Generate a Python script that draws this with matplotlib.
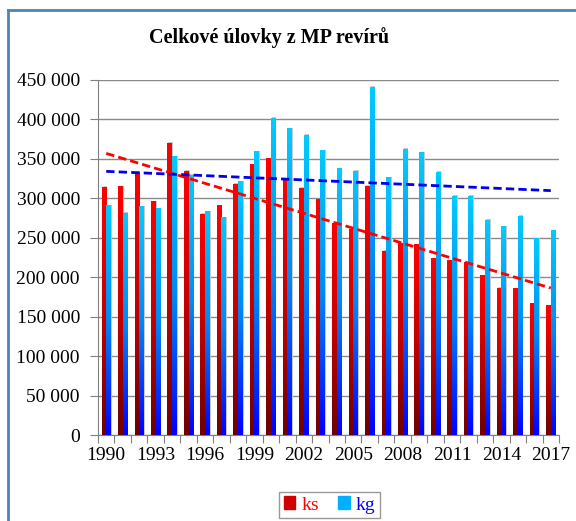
import numpy as np
import matplotlib
matplotlib.use("Agg")
import matplotlib.pyplot as plt
from matplotlib.colors import LinearSegmentedColormap
from matplotlib.patches import Patch

# data
years = list(range(1990, 2018))
ks = [314000, 314800, 333000, 295400, 369800, 334600, 279700, 290300, 317800, 342300,
      350300, 322400, 312700, 297900, 267900, 260200, 315600, 233200, 242500, 241700,
      224000, 220600, 218400, 202000, 186300, 185900, 166900, 164400]
kg = [290300, 281400, 289400, 286500, 352400, 329000, 282700, 275500, 321100, 359100,
      401800, 387900, 379400, 360000, 337200, 334600, 441100, 325800, 362500, 357500,
      333000, 302600, 302600, 272100, 263700, 277600, 249300, 259400]
xlabels = [str(y) for y in years[::3]]

W, H = 576, 521
fig = plt.figure(figsize=(W / 100, H / 100), dpi=100)
plt.rcParams['font.family'] = ['Liberation Serif', 'DejaVu Serif']

ax = fig.add_axes([98 / W, (H - 435) / H, (559 - 98) / W, (435 - 80) / H])

red_cm = LinearSegmentedColormap.from_list('r', [(0, '#6e0000'), (0.5, '#c40000'), (1, '#ff0000')])
blue_cm = LinearSegmentedColormap.from_list('b', [(0, '#0000ff'), (0.5, '#0088f4'), (1, '#00ccff')])
grad = np.linspace(0, 1, 256).reshape(-1, 1)

x = np.arange(len(years))
bw = 0.28
for i in range(len(years)):
    for off, val, cm in [(-bw / 2, ks[i], red_cm), (bw / 2, kg[i], blue_cm)]:
        x0 = x[i] + off - bw / 2
        # light shadow
        ax.add_patch(plt.Rectangle((x0 + 0.06, 0), bw, val * 1.004, color='#c8c8c8', zorder=2, lw=0))
        ax.imshow(grad, cmap=cm, origin='lower', aspect='auto',
                  extent=(x0, x0 + bw, 0, val), zorder=3, interpolation='bilinear')

# trend lines
for vals, c in [(ks, '#ff0000'), (kg, '#0000ee')]:
    p = np.polyfit(x, vals, 1)
    ax.plot([x[0], x[-1]], np.polyval(p, [x[0], x[-1]]), '--', color=c, lw=2, dashes=(3, 1.5), zorder=4)

ax.set_xlim(-0.5, len(years) - 0.5)
ax.set_ylim(0, 450000)
ax.set_yticks(np.arange(0, 450001, 50000))
ax.set_yticklabels([f"{v:,}".replace(",", " ") for v in range(0, 450001, 50000)], fontsize=14)
ax.yaxis.grid(True, color='#8a8a8a', lw=1)
ax.set_axisbelow(True)

ax.set_xticks(np.arange(-0.5, len(years), 1))
ax.set_xticklabels([])
ax.set_xticks(x[::3], minor=True)
ax.set_xticklabels(xlabels, minor=True, fontsize=14)
ax.tick_params(axis='x', which='minor', length=0, pad=9)
ax.tick_params(axis='x', which='major', length=6, color='#808080')
ax.tick_params(axis='y', length=6, color='#808080', pad=7)

for s in ['top', 'right']:
    ax.spines[s].set_visible(False)
for s in ['left', 'bottom']:
    ax.spines[s].set_color('#808080')

fig.text(269 / W, 1 - 38 / H, 'Celkové úlovky z MP revírů',
         ha='center', va='center', fontsize=14.5, fontweight='bold')

handles = [Patch(color='#d00000'), Patch(color='#00b0ff')]
leg = fig.legend(handles, ['ks', 'kg'], loc='center', bbox_to_anchor=(329.5 / W, 1 - 505 / H),
                 ncol=2, fontsize=14, frameon=True, fancybox=False, edgecolor='#808080',
                 handlelength=0.6, handleheight=0.6, handletextpad=0.3, columnspacing=1.0,
                 borderpad=0.25)
leg.get_texts()[0].set_color('#ff0000')
leg.get_texts()[1].set_color('#0000ff')

# outer frame (only left and top visible in the crop)
fig.add_artist(plt.Line2D([8 / W, 8 / W], [0, 1 - 10 / H], color='#4f81bd', lw=2))
fig.add_artist(plt.Line2D([8 / W, 1], [1 - 10 / H, 1 - 10 / H], color='#4f81bd', lw=2))

fig.savefig('out.png', dpi=100)
